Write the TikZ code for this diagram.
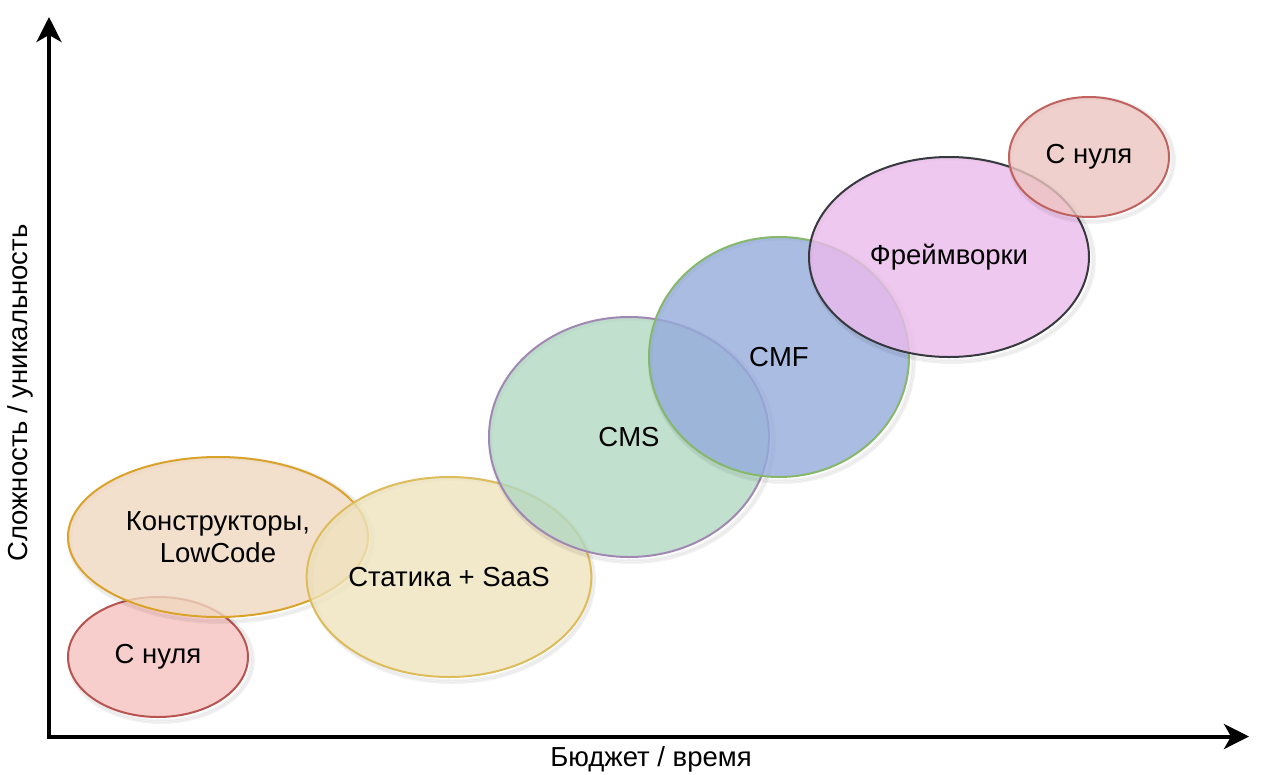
\documentclass[tikz,border=0pt]{standalone}
\usepackage{fontspec}
\setmainfont{Liberation Sans}
\usetikzlibrary{shapes.geometric,arrows.meta}
\definecolor{fRedA}{HTML}{F8CECC}\definecolor{sRed}{HTML}{B85450}
\definecolor{fOrange}{HTML}{F0D8BF}\definecolor{sOrange}{HTML}{D9A32A}
\definecolor{fYellow}{HTML}{EFE3BD}\definecolor{sYellow}{HTML}{DDBC5C}
\definecolor{fGreen}{HTML}{B1D8C2}\definecolor{sPurple}{HTML}{A088B2}
\definecolor{fBlue}{HTML}{95ABDB}\definecolor{sGreen}{HTML}{86B86C}
\definecolor{fViolet}{HTML}{EBBAEC}\definecolor{sDark}{HTML}{36393D}
\definecolor{fRedB}{HTML}{EBC4C1}\definecolor{sRedB}{HTML}{C0635F}
\tikzset{
  blob/.style={ellipse, inner sep=0pt, line width=2pt, align=center,
    font=\fontsize{27.5}{32}\selectfont, fill opacity=0.8, text opacity=1},
  shadowring/.style={draw=black, draw opacity=0.05, line width=2pt},
  axisline/.style={line width=4pt, line cap=rect, -{Stealth[length=25pt,width=25pt,inset=7pt]}},
  axislabel/.style={font=\fontsize{27.5}{32}\selectfont, inner sep=0pt}
}
\newcommand\mysoftshadow[3]{%
  \foreach \d in {0,1.5,3}{%
    \draw[shadowring] (#1) ++(3,3) ellipse [x radius={#2+\d}, y radius={#3+\d}];}}
\begin{document}
\begin{tikzpicture}[x=1pt,y=-1pt]
\useasboundingbox (0,0) rectangle (1266,774);
% shadows and ellipses, in drawing order
\mysoftshadow{158,657}{90}{60}
\node[blob, fill=fRedA, fill opacity=1, draw=sRed, minimum width=180pt, minimum height=120pt] (zero1) at (158,657) {С нуля};
\mysoftshadow{218,537}{150}{80}
\node[blob, fill=fOrange, draw=sOrange, minimum width=300pt, minimum height=160pt] (lowcode) at (218,537) {Конструкторы,\\LowCode};
\mysoftshadow{449,577}{140}{100}
\node[blob, fill=fYellow, draw=sYellow, minimum width=280pt, minimum height=200pt] (static) at (449,577) {Статика + SaaS};
\mysoftshadow{629,437}{140}{120}
\node[blob, fill=fGreen, draw=sPurple, minimum width=280pt, minimum height=240pt] (cms) at (629,437) {CMS};
\mysoftshadow{779,357}{130}{120}
\node[blob, fill=fBlue, draw=sGreen, minimum width=260pt, minimum height=240pt] (cmf) at (779,357) {CMF};
\mysoftshadow{949,257}{140}{100}
\node[blob, fill=fViolet, draw=sDark, minimum width=280pt, minimum height=200pt] (fw) at (949,257) {Фреймворки};
\mysoftshadow{1089,157}{80}{60}
\node[blob, fill=fRedB, draw=sRedB, minimum width=160pt, minimum height=120pt] (zero2) at (1089,157) {С нуля};
% axes
\coordinate (origin) at (49,736.5);
\coordinate (ytop) at (49,17);
\coordinate (xend) at (1249,736.5);
\draw[axisline] (origin) -- (ytop);
\draw[axisline] (origin) -- (xend);
\node[axislabel] (xlabel) at (651,759) {Бюджет / время};
\node[axislabel, rotate=90] (ylabel) at (20,393) {Сложность / уникальность};
\end{tikzpicture}
\end{document}
